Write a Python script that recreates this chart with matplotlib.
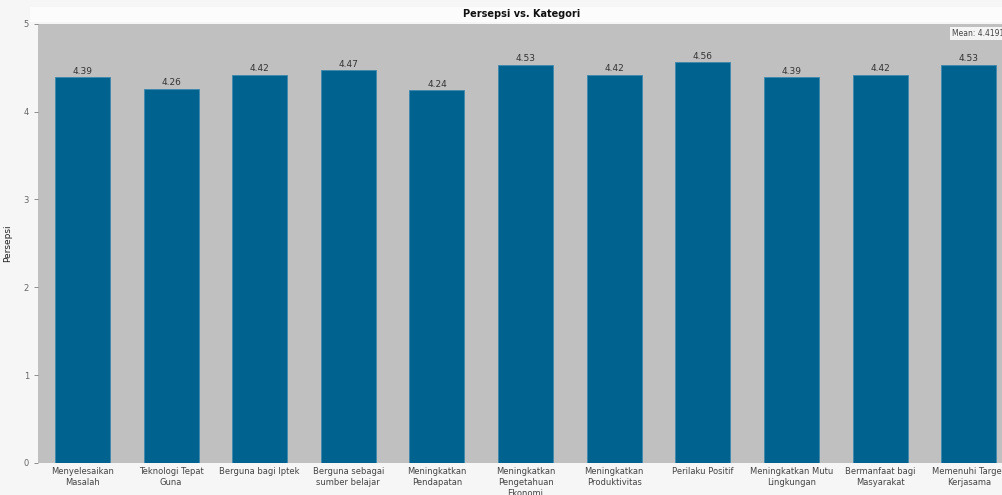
import matplotlib.pyplot as plt
import numpy as np

kategori = ['Menyelesaikan\nMasalah', 'Teknologi Tepat\nGuna', 'Berguna bagi Iptek',
            'Berguna sebagai\nsumber belajar', 'Meningkatkan\nPendapatan',
            'Meningkatkan\nPengetahuan\nEkonomi', 'Meningkatkan\nProduktivitas',
            'Perilaku Positif', 'Meningkatkan Mutu\nLingkungan', 'Bermanfaat bagi\nMasyarakat',
            'Memenuhi Target\nKerjasama']
persepsi = [4.39, 4.26, 4.42, 4.47, 4.24, 4.53, 4.42, 4.56, 4.39, 4.42, 4.53]
label_nilai = ['4.39', '4.26', '4.42', '4.47', '4.24', '4.53', '4.42', '4.56', '4.39', '4.42', '4.53']

fig = plt.figure(figsize=(10.03, 4.95), dpi=100, facecolor='#f6f6f6')
ax = fig.add_axes([0.038, 0.065, 0.965, 0.887])
ax.set_facecolor('#c0c0c0')

x = np.arange(len(kategori))
bars = ax.bar(x, persepsi, width=0.62, color='#00628f', edgecolor='#3d88ad', linewidth=0.6)
for b, t in zip(bars, label_nilai):
    ax.text(b.get_x() + b.get_width() / 2, b.get_height() + 0.02, t,
            ha='center', va='bottom', fontsize=6.5, color='#333333')

ax.set_xlim(-0.5, 10.42)
ax.set_ylim(0, 5)
ax.set_yticks([0, 1, 2, 3, 4, 5])
ax.set_xticks(x)
ax.set_xticklabels(kategori, fontsize=6, color='#444444', linespacing=1.3)
ax.tick_params(axis='y', labelsize=6, colors='#666666', length=3, width=0.5)
ax.tick_params(axis='x', length=0, pad=3)
for s in ax.spines.values():
    s.set_visible(False)
ax.set_ylabel('Persepsi', fontsize=6.5, color='#222222', labelpad=8)

fig.patches.append(plt.Rectangle((0.03, 0.955), 0.97, 0.03, transform=fig.transFigure,
                                 facecolor='#fcfcfc', edgecolor='none'))
fig.text(0.52, 0.972, 'Persepsi vs. Kategori', ha='center', va='center',
         fontsize=7, fontweight='bold', color='#111111')
ax.text(0.998, 0.978, 'Mean: 4.4191', transform=ax.transAxes, ha='right', va='center',
        fontsize=5.5, color='#444444',
        bbox=dict(facecolor='#f4f4f4', edgecolor='none', pad=1.5))

plt.savefig('out.png', dpi=100, facecolor=fig.get_facecolor())
